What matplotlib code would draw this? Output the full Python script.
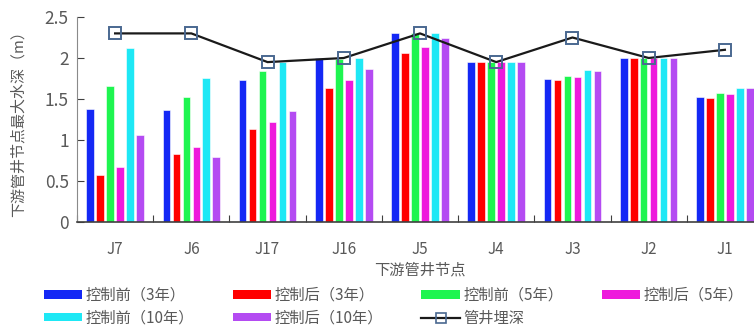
import numpy as np
import matplotlib
matplotlib.use("Agg")
import matplotlib.pyplot as plt
from matplotlib.lines import Line2D
from matplotlib.patches import Patch

plt.rcParams['font.family'] = ['Noto Sans CJK SC', 'DejaVu Sans']

# 下游管井节点
nodes = ["J7", "J6", "J17", "J16", "J5", "J4", "J3", "J2", "J1"]

# 各节点最大水深 (m)
pre_3y = [1.38, 1.36, 1.73, 2.00, 2.30, 1.95, 1.75, 2.00, 1.52]
post_3y = [0.57, 0.83, 1.13, 1.63, 2.06, 1.95, 1.73, 2.00, 1.51]
pre_5y = [1.66, 1.52, 1.84, 1.99, 2.30, 1.95, 1.78, 2.00, 1.57]
post_5y = [0.67, 0.92, 1.22, 1.73, 2.14, 1.95, 1.77, 2.00, 1.56]
pre_10y = [2.12, 1.76, 1.95, 2.00, 2.30, 1.95, 1.85, 2.00, 1.63]
post_10y = [1.06, 0.79, 1.35, 1.86, 2.24, 1.95, 1.84, 2.00, 1.63]

# 管井埋深 (m)
well_depth = [2.30, 2.30, 1.95, 2.00, 2.30, 1.95, 2.25, 2.00, 2.10]

series = [
    ("控制前（3年）", pre_3y, "#1428F5"),
    ("控制后（3年）", post_3y, "#FF0000"),
    ("控制前（5年）", pre_5y, "#1EF550"),
    ("控制后（5年）", post_5y, "#EE1ADC"),
    ("控制前（10年）", pre_10y, "#1EE8F5"),
    ("控制后（10年）", post_10y, "#B44BF2"),
]

text_gray = "#595959"

fig = plt.figure(figsize=(7.54, 3.29), dpi=100)
ax = fig.add_axes([77 / 754, 1 - 222 / 329, 686 / 754, 205 / 329])

x = np.arange(len(nodes))
pitch = 0.131
width = 0.1
for i, (label, vals, color) in enumerate(series):
    ax.bar(x + (i - 2.5) * pitch, vals, width, color=color,
           edgecolor="white", linewidth=0.4, label=label, zorder=2)

ax.plot(x, well_depth, color="#1a1a1a", linewidth=1.6, marker="s",
        markersize=9, markerfacecolor="none", markeredgecolor="#4A6890",
        markeredgewidth=1.4, zorder=3, label="管井埋深")

ax.set_xlim(-0.5, len(nodes) - 0.5)
ax.set_ylim(0, 2.5)
ax.set_yticks([0, 0.5, 1, 1.5, 2, 2.5])
ax.set_yticklabels(["0", "0.5", "1", "1.5", "2", "2.5"])

# 分隔刻度画在类别边界，标签放在类别中心
ax.set_xticks(np.arange(len(nodes) + 1) - 0.5)
ax.set_xticklabels([])
ax.set_xticks(x, minor=True)
ax.set_xticklabels(nodes, minor=True)
ax.tick_params(axis="x", which="major", direction="in", length=5,
               color="#404040")
ax.tick_params(axis="x", which="minor", length=0, pad=14,
               labelsize=11, labelcolor=text_gray)
ax.tick_params(axis="y", direction="in", length=5, pad=6,
               labelsize=12.5, labelcolor=text_gray, color="#404040")

for side in ("top", "right"):
    ax.spines[side].set_visible(False)
ax.spines["left"].set_color("#8a8a8a")
ax.spines["bottom"].set_color("#404040")
ax.spines["bottom"].set_linewidth(1.2)

ax.set_xlabel("下游管井节点", fontsize=11, color=text_gray, labelpad=2)
fig.text(18 / 754, 1 - 120 / 329, "下游管井节点最大水深（m）", rotation=90,
         ha="center", va="center", fontsize=10.8, color=text_gray)

# 图例按行排列：matplotlib 按列填充，需重新排序
handles = [Patch(facecolor=c, edgecolor="none") for _, _, c in series]
handles.append(Line2D([], [], color="#1a1a1a", linewidth=1.6, marker="s",
                      markersize=7, markerfacecolor="none",
                      markeredgecolor="#4A6890", markeredgewidth=1.2))
labels = [s[0] for s in series] + ["管井埋深"]
order = [0, 4, 1, 5, 2, 6, 3]
leg = fig.legend([handles[i] for i in order], [labels[i] for i in order],
                 ncol=4, loc="upper left", bbox_to_anchor=(44 / 754, 1 - 287 / 329),
                 frameon=False, fontsize=11, handlelength=2.5,
                 handleheight=0.45, handletextpad=0.25, columnspacing=2.5,
                 labelspacing=0.38, borderaxespad=0, borderpad=0)
for t in leg.get_texts():
    t.set_color(text_gray)

fig.savefig("out.png", dpi=100)
